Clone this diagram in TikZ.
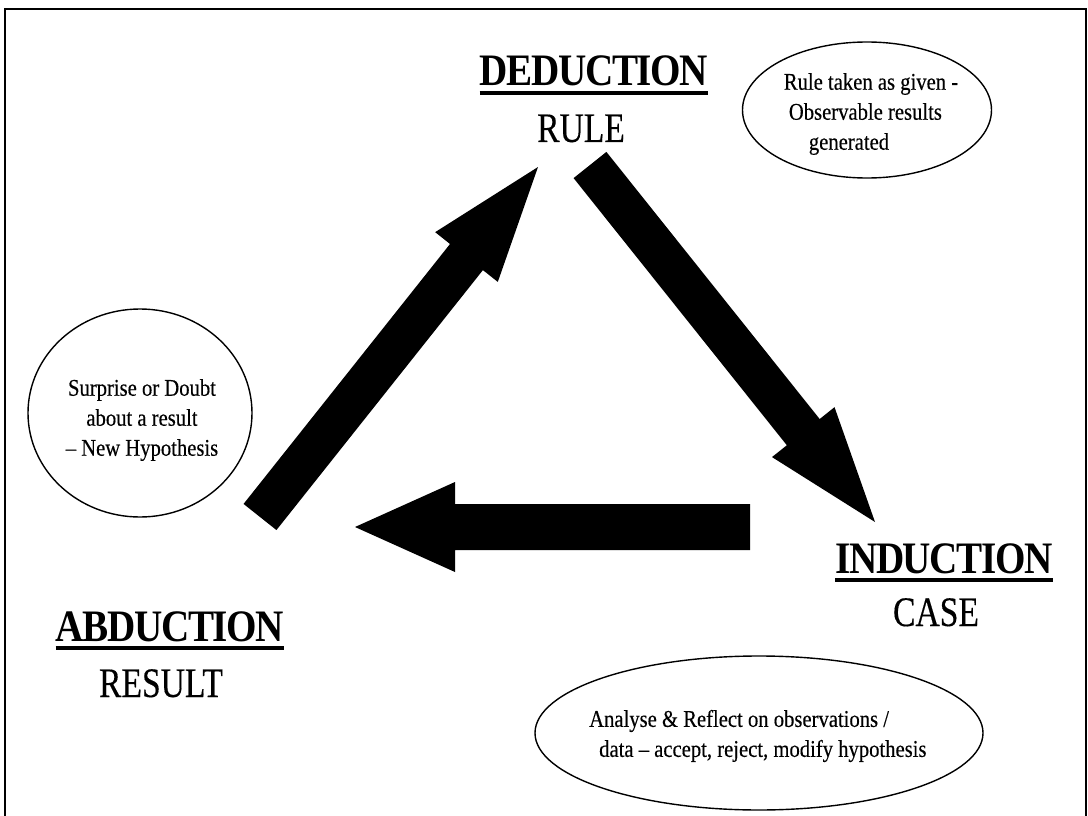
\documentclass[tikz,border=0pt]{standalone}
\usepackage{fontspec}
\setmainfont{Liberation Serif}
\newfontfamily\headfont[FakeStretch=0.87,LetterSpace=-3.0]{Liberation Serif}
\newfontfamily\capsfont[FakeStretch=0.80,FakeBold=0.3]{Liberation Serif}
\newfontfamily\notefont[FakeStretch=0.86,FakeBold=0.3]{Liberation Serif}
\usetikzlibrary{calc,shapes.geometric}

% Block arrow: #1 tail, #2 tip, #3 shaft half-width, #4 head half-width, #5 head length
\newcommand\blockarrow[5]{%
  \coordinate (ba-base) at ($(#2)!#5!(#1)$);
  \fill[black] ($(#1)!#3!90:(#2)$)
    -- ($(ba-base)!#3!90:(#2)$)
    -- ($(ba-base)!#4!90:(#2)$)
    -- (#2)
    -- ($(ba-base)!#4!-90:(#2)$)
    -- ($(ba-base)!#3!-90:(#2)$)
    -- ($(#1)!#3!-90:(#2)$) -- cycle;
}

\begin{document}
\begin{tikzpicture}[x=1pt,y=-1pt,
  headword/.style={font=\headfont\bfseries\fontsize{45}{50}\selectfont, inner sep=0pt, anchor=base},
  termname/.style={font=\capsfont\fontsize{42}{46}\selectfont, inner sep=0pt, anchor=base},
  notetext/.style={font=\notefont\fontsize{24}{30}\selectfont, inner sep=0pt},
  bubble/.style={draw, line width=1.4pt, ellipse, inner sep=0pt},
  underbar/.style={line width=4.5pt},
  frame/.style={line width=2pt}]

\useasboundingbox (0,0) rectangle (1088,816);
\fill[white] (0,0) rectangle (1088,816);

% outer frame (open at the bottom edge of the page)
\draw[frame] (5,830) -- (5,9) -- (1086,9) -- (1086,830);

% the three stages
\node[headword] (ded) at (594,86) {DEDUCTION};
\draw[underbar] ([yshift=-7pt]ded.base west) -- ([yshift=-7pt]ded.base east);
\node[termname] (rule) at (581,142) {RULE};

\node[headword] (ind) at (944,573) {INDUCTION};
\draw[underbar] ([yshift=-7pt]ind.base west) -- ([yshift=-7pt]ind.base east);
\node[termname] (case) at (936,626) {CASE};

\node[headword] (abd) at (170,641) {ABDUCTION};
\draw[underbar] ([yshift=-7pt]abd.base west) -- ([yshift=-7pt]abd.base east);
\node[termname] (res) at (161,697) {RESULT};

% comment bubbles
\node[bubble, minimum width=249pt, minimum height=136pt] (bubbleDed) at (867,110) {};
\node[notetext, align=left] (noteDed) at (871,114)
  {Rule taken as given -\\\hspace*{5pt}Observable results\\\hspace*{25pt}generated};

\node[bubble, minimum width=224pt, minimum height=208pt] (bubbleAbd) at (140,413) {};
\node[notetext, align=center] (noteAbd) at (142,420)
  {Surprise or Doubt\\about a result\\– New Hypothesis};

\node[bubble, minimum width=448pt, minimum height=154pt] (bubbleInd) at (759,733) {};
\node[notetext, align=left, anchor=west] (noteInd) at (589,736)
  {Analyse \& Reflect on observations /\\\hspace*{10pt}data – accept, reject, modify hypothesis};

% cycle arrows
\coordinate (abdTail) at (260,517);
\coordinate (dedTip)  at (538,167);
\coordinate (dedTail) at (590,165);
\coordinate (indTip)  at (875,522);
\coordinate (indTail) at (750,527);
\coordinate (abdTip)  at (355,527);

\blockarrow{abdTail}{dedTip}{21pt}{40pt}{115pt}
\blockarrow{dedTail}{indTip}{21pt}{40pt}{115pt}
\blockarrow{indTail}{abdTip}{23pt}{45pt}{100pt}

\end{tikzpicture}
\end{document}
